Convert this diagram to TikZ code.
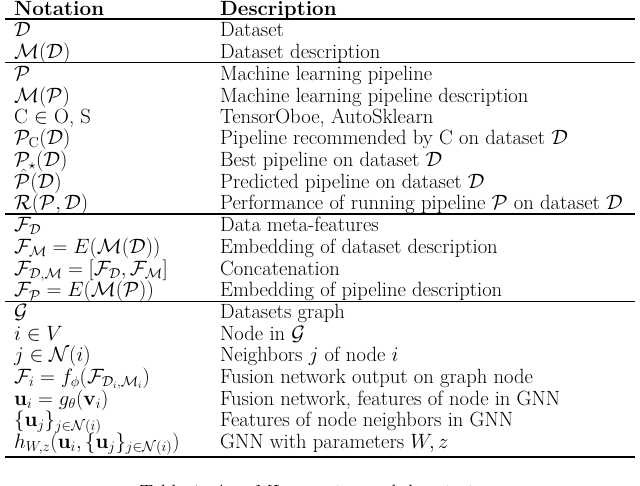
\documentclass[tikz,border=0pt]{standalone}
\usepackage{amsmath,amssymb}
\begin{document}
\begin{tikzpicture}[x=1pt,y=-1pt,
  cell/.style={anchor=base west,inner sep=0pt,font=\fontsize{20.6}{22}\selectfont},
  rulel/.style={line width=1.1pt}]
\useasboundingbox (0,0) rectangle (640,486);
\def\L{14}\def\R{220}
\node[cell] (h1) at (\L,15.5) {\textbf{Notation}};
\node[cell] (h2) at (\R,15.5) {\textbf{Description}};
\foreach \y/\a/\b [count=\i] in {
 36.5/{$\mathcal{D}$}/{Dataset},
 58.5/{$\mathcal{M}(\mathcal{D})$}/{Dataset description},
 80.5/{$\mathcal{P}$}/{Machine learning pipeline},
 102.5/{$\mathcal{M}(\mathcal{P})$}/{Machine learning pipeline description},
 123.5/{C $\in$ O, S}/{TensorOboe, AutoSklearn},
 144.5/{$\mathcal{P}_{\mathrm{C}}(\mathcal{D})$}/{Pipeline recommended by C on dataset $\mathcal{D}$},
 166.5/{$\mathcal{P}_{\star}(\mathcal{D})$}/{Best pipeline on dataset $\mathcal{D}$},
 188.5/{$\hat{\mathcal{P}}(\mathcal{D})$}/{Predicted pipeline on dataset $\mathcal{D}$},
 210/{$\mathcal{R}(\mathcal{P},\mathcal{D})$}/{Performance of running pipeline $\mathcal{P}$ on dataset $\mathcal{D}$},
 231.5/{$\mathcal{F}_{\mathcal{D}}$}/{Data meta-features},
 253.5/{$\mathcal{F}_{\mathcal{M}}=E(\mathcal{M}(\mathcal{D}))$}/{Embedding of dataset description},
 275.5/{$\mathcal{F}_{\mathcal{D},\mathcal{M}}=[\mathcal{F}_{\mathcal{D}},\mathcal{F}_{\mathcal{M}}]$}/{Concatenation},
 297/{$\mathcal{F}_{\mathcal{P}}=E(\mathcal{M}(\mathcal{P}))$}/{Embedding of pipeline description},
 318.5/{$\mathcal{G}$}/{Datasets graph},
 340.5/{$i\in V$}/{Node in $\mathcal{G}$},
 361.5/{$j\in\mathcal{N}(i)$}/{Neighbors $j$ of node $i$},
 383.5/{$\mathcal{F}_i=f_\phi(\mathcal{F}_{\mathcal{D}_i,\mathcal{M}_i})$}/{Fusion network output on graph node},
 405.5/{$\mathbf{u}_i=g_\theta(\mathbf{v}_i)$}/{Fusion network, features of node in GNN},
 426.5/{$\{\mathbf{u}_j\}_{j\in\mathcal{N}(i)}$}/{Features of node neighbors in GNN},
 448/{$h_{W,z}(\mathbf{u}_i,\{\mathbf{u}_j\}_{j\in\mathcal{N}(i)})$}/{GNN with parameters $W,z$}}
{
  \node[cell] (n\i) at (\L,\y) {\a};
  \node[cell] (d\i) at (\R,\y) {\b};
}
\foreach \y in {19,62.5,214,301.5}
  \draw[rulel] (5,\y) -- (635,\y);
\draw[rulel] (5,457) -- (635,457);
\node[cell,anchor=base] (cap) at (320,499) {Table 1: AutoML notation and descriptions};
\end{tikzpicture}
\end{document}
